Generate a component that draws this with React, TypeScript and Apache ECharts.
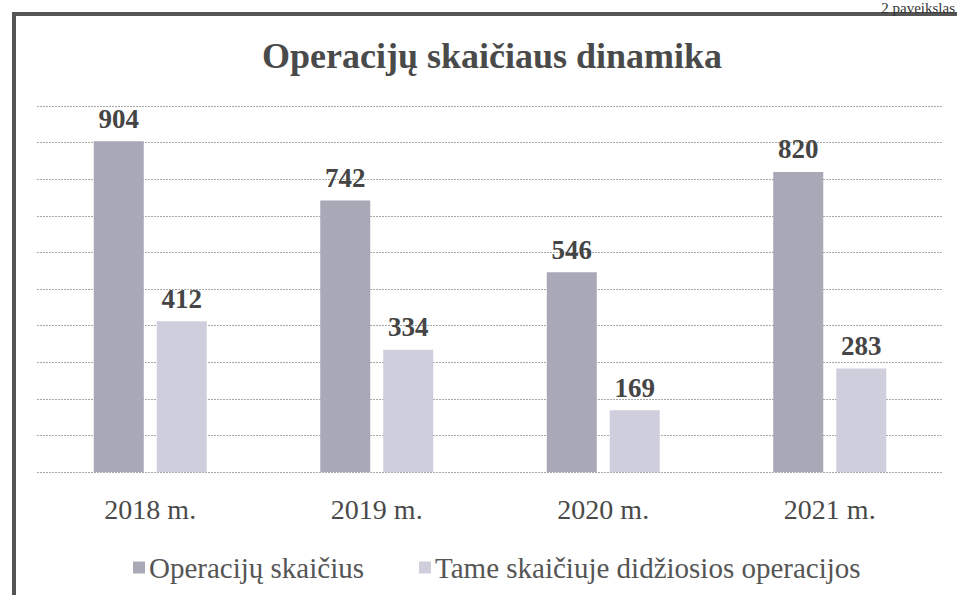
import React, { useEffect, useRef } from "react";
import * as echarts from "echarts";

const categories = ["2018 m.", "2019 m.", "2020 m.", "2021 m."];
const seriesNames = ["Operacijų skaičius", "Tame skaičiuje didžiosios operacijos"];
const totalOps = [904, 742, 546, 820];
const majorOps = [412, 334, 169, 283];
const titleText = "Operacijų skaičiaus dinamika";
const figureNote = "2 paveikslas";

const SERIF = '"Liberation Serif", "DejaVu Serif", serif';

export default function App() {
  const ref = useRef<HTMLDivElement>(null);
  useEffect(() => {
    if (!ref.current) return;
    const chart = echarts.init(ref.current, undefined, { renderer: "svg" });
    chart.setOption({
      animation: false,
      backgroundColor: "#ffffff",
      title: {
        text: titleText,
        left: 257,
        top: 33,
        textStyle: { fontFamily: SERIF, fontSize: 36, fontWeight: "bold", color: "#4a4a4a" },
      },
      legend: {
        data: seriesNames,
        left: 128,
        top: 548,
        itemWidth: 12,
        itemHeight: 12,
        itemGap: 55,
        icon: "rect",
        textStyle: { fontFamily: SERIF, fontSize: 29, color: "#555555", padding: [0, 0, 0, -1] },
      },
      grid: { left: 37, right: 14, top: 106, bottom: 123, containLabel: false },
      xAxis: {
        type: "category",
        data: categories,
        axisLine: { show: false },
        axisTick: { show: false },
        axisLabel: { fontFamily: SERIF, fontSize: 28, color: "#4a4a4a", margin: 23 },
      },
      yAxis: {
        type: "value",
        min: 0,
        max: 1000,
        interval: 100,
        axisLabel: { show: false },
        axisLine: { show: false },
        axisTick: { show: false },
        splitLine: { lineStyle: { color: "#a8a8a8", width: 1, type: [2, 1] } },
      },
      series: [
        {
          name: seriesNames[0],
          type: "bar",
          data: totalOps,
          barWidth: 50,
          barGap: "26%",
          itemStyle: { color: "#a9a8b6" },
          label: {
            show: true,
            position: "top",
            distance: 9,
            fontFamily: SERIF,
            fontSize: 27,
            fontWeight: "bold",
            color: "#454545",
          },
        },
        {
          name: seriesNames[1],
          type: "bar",
          data: majorOps,
          barWidth: 50,
          itemStyle: { color: "#cfcedc" },
          label: {
            show: true,
            position: "top",
            distance: 9,
            fontFamily: SERIF,
            fontSize: 27,
            fontWeight: "bold",
            color: "#454545",
          },
        },
      ],
      graphic: [
        {
          type: "rect",
          shape: { x: 14, y: 14, width: 960, height: 600 },
          style: { fill: "none", stroke: "#555555", lineWidth: 4 },
          silent: true,
        },
        {
          type: "text",
          x: 955,
          y: 0,
          style: {
            text: figureNote,
            fontFamily: SERIF,
            fontSize: 15,
            fill: "#333333",
            align: "right",
            verticalAlign: "top",
          },
          silent: true,
        },
      ],
    });
    return () => chart.dispose();
  }, []);
  return (
    <div
      ref={ref}
      style={{ position: "fixed", left: 0, top: 0, width: 957, height: 595 }}
    />
  );
}
